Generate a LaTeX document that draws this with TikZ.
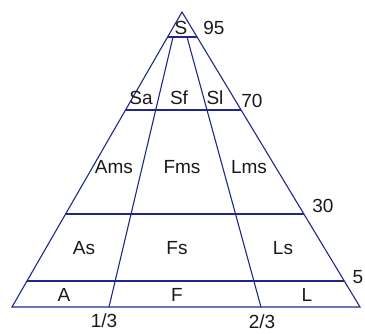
\documentclass[tikz,border=0pt]{standalone}
\usepackage{fontspec}
\setmainfont{Liberation Sans}
\usetikzlibrary{calc}
\definecolor{edgeblue}{RGB}{30,40,140}
\definecolor{txtgray}{RGB}{25,25,25}
\tikzset{
  edge/.style={draw=edgeblue, line width=1.1pt},
  lbl/.style={inner sep=0pt, text=txtgray, font=\fontsize{19}{19}\selectfont}
}
\begin{document}
\begin{tikzpicture}[x=1pt,y=-1pt]
\useasboundingbox (0,0) rectangle (365,333);
% vertices
\coordinate (apex) at (182,12);
\coordinate (bl) at (12,307);
\coordinate (br) at (360,307);
% side points
\coordinate (l95) at ($(apex)!0.0847!(bl)$);
\coordinate (r95) at ($(apex)!0.0847!(br)$);
\coordinate (l70) at ($(apex)!0.3322!(bl)$);
\coordinate (r70) at ($(apex)!0.3322!(br)$);
\coordinate (l30) at ($(apex)!0.6847!(bl)$);
\coordinate (r30) at ($(apex)!0.6847!(br)$);
\coordinate (l5) at ($(apex)!0.9119!(bl)$);
\coordinate (r5) at ($(apex)!0.9119!(br)$);
% inner dividers
\coordinate (b1) at (109,307);
\coordinate (t1) at (173,37);
\coordinate (b2) at (261,307);
\coordinate (t2) at (187,37);
% outline
\draw[edge] (apex) -- (bl) -- (br) -- cycle;
% horizontal lines
\draw[edge] (l95) -- (r95);
\draw[edge] (l70) -- (r70);
\draw[edge] (l30) -- (r30);
\draw[edge] (l5) -- (r5);
% dividers
\draw[edge] (b1) -- (t1);
\draw[edge] (b2) -- (t2);
% labels
\node[lbl] (S) at (181,28) {S};
\node[lbl] (n95) at (214,28) {95};
\node[lbl] (Sa) at (141,98) {Sa};
\node[lbl] (Sf) at (179,98) {Sf};
\node[lbl] (Sl) at (215,98) {Sl};
\node[lbl] (n70) at (252,101) {70};
\node[lbl] (Ams) at (114,167) {Ams};
\node[lbl] (Fms) at (182,167) {Fms};
\node[lbl] (Lms) at (249,167) {Lms};
\node[lbl] (n30) at (323,206) {30};
\node[lbl] (As) at (84,248) {As};
\node[lbl] (Fs) at (177,248) {Fs};
\node[lbl] (Ls) at (283,248) {Ls};
\node[lbl] (n5) at (358,277) {5};
\node[lbl] (A) at (64,295) {A};
\node[lbl] (F) at (177,295) {F};
\node[lbl] (L) at (307,295) {L};
\node[lbl] (t13) at (104,321) {1/3};
\node[lbl] (t23) at (262,322) {2/3};
\end{tikzpicture}
\end{document}
